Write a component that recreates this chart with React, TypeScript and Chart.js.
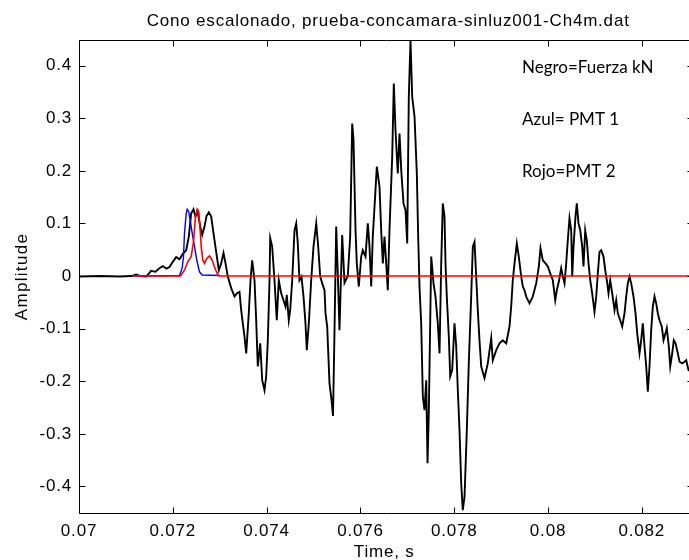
import React, { useEffect, useRef } from "react";
import { Chart, registerables } from "chart.js";

Chart.register(...registerables);

// ---------- data (time in milliseconds, amplitude in chart units) ----------
const blackTimeMs = [
  70.0, 70.437, 70.864, 71.119, 71.22, 71.311, 71.433, 71.539, 71.631, 71.716,
  71.787, 71.866, 71.93, 72.0, 72.072, 72.143, 72.213, 72.286, 72.341, 72.392,
  72.441, 72.484, 72.533, 72.584, 72.627, 72.676, 72.719, 72.768, 72.819, 72.868,
  72.925, 72.981, 73.032, 73.081, 73.124, 73.173, 73.245, 73.316, 73.365, 73.422,
  73.458, 73.493, 73.529, 73.565, 73.62, 73.657, 73.693, 73.742, 73.778, 73.812,
  73.864, 73.906, 73.955, 73.991, 74.026, 74.062, 74.077, 74.119, 74.168, 74.217,
  74.26, 74.311, 74.36, 74.403, 74.431, 74.473, 74.503, 74.546, 74.595, 74.631,
  74.665, 74.701, 74.744, 74.787, 74.829, 74.857, 74.9, 74.951, 75.0, 75.058,
  75.1, 75.143, 75.186, 75.235, 75.256, 75.292, 75.341, 75.384, 75.416, 75.448,
  75.484, 75.522, 75.554, 75.612, 75.661, 75.731, 75.782, 75.825, 75.853, 75.896,
  75.923, 75.966, 76.017, 76.051, 76.109, 76.158, 76.194, 76.23, 76.264, 76.301,
  76.35, 76.407, 76.443, 76.478, 76.514, 76.55, 76.584, 76.62, 76.678, 76.712,
  76.748, 76.797, 76.834, 76.87, 76.919, 76.962, 76.998, 77.032, 77.068, 77.104,
  77.154, 77.203, 77.232, 77.26, 77.296, 77.331, 77.367, 77.403, 77.431, 77.458,
  77.51, 77.559, 77.601, 77.65, 77.687, 77.723, 77.757, 77.793, 77.815, 77.842,
  77.885, 77.915, 77.957, 78.006, 78.043, 78.077, 78.113, 78.149, 78.183, 78.22,
  78.269, 78.311, 78.362, 78.397, 78.433, 78.469, 78.503, 78.539, 78.576, 78.646,
  78.716, 78.789, 78.823, 78.896, 78.966, 79.036, 79.109, 79.179, 79.215, 79.249,
  79.286, 79.335, 79.377, 79.429, 79.463, 79.499, 79.535, 79.606, 79.676, 79.748,
  79.804, 79.84, 79.889, 79.947, 79.996, 80.047, 80.102, 80.154, 80.188, 80.23,
  80.281, 80.316, 80.352, 80.388, 80.422, 80.458, 80.495, 80.516, 80.544, 80.586,
  80.614, 80.65, 80.687, 80.729, 80.757, 80.793, 80.827, 80.864, 80.9, 80.942,
  80.991, 81.028, 81.062, 81.098, 81.134, 81.183, 81.22, 81.254, 81.29, 81.326,
  81.369, 81.418, 81.454, 81.488, 81.539, 81.582, 81.631, 81.667, 81.701, 81.738,
  81.774, 81.823, 81.866, 81.902, 81.951, 81.987, 82.021, 82.058, 82.094, 82.128,
  82.164, 82.2, 82.235, 82.271, 82.307, 82.341, 82.377, 82.426, 82.463, 82.505,
  82.533, 82.576, 82.606, 82.648, 82.682, 82.719, 82.768, 82.804, 82.861, 82.91,
  82.947, 82.996, 83.081,
];

const blackAmp = [
  -0.001, 0, -0.001, 0, 0.003, 0, -0.001, 0.01, 0.008, 0.015,
  0.019, 0.014, 0.017, 0.027, 0.036, 0.032, 0.042, 0.049, 0.075, 0.119,
  0.127, 0.113, 0.122, 0.094, 0.078, 0.094, 0.114, 0.121, 0.113, 0.081,
  0.046, 0.011, 0.024, 0.044, 0.024, -0.001, -0.023, -0.039, -0.033, -0.03,
  -0.065, -0.09, -0.115, -0.147, -0.071, -0.008, 0.03, -0.008, -0.084, -0.172,
  -0.128, -0.198, -0.217, -0.191, -0.122, -0.008, 0.072, 0.056, -0.008, -0.084,
  -0.008, -0.033, -0.046, -0.058, -0.036, -0.084, -0.065, -0.008, 0.087, 0.1,
  0.062, -0.008, -0.001, -0.039, -0.09, -0.141, -0.09, -0.008, 0.056, 0.1,
  0.056, -0.001, -0.014, -0.027, -0.071, -0.096, -0.204, -0.236, -0.266, -0.103,
  0.094, -0.008, -0.103, 0.078, -0.013, 0, 0.075, 0.29, 0.259, 0.087,
  0.024, -0.02, 0.037, 0.049, 0.037, 0.1, 0.056, -0.02, 0.075, 0.132,
  0.208, 0.17, 0.087, 0.024, 0.075, 0.024, -0.027, 0.087, 0.227, 0.366,
  0.278, 0.195, 0.271, 0.202, 0.138, 0.125, 0.062, 0.341, 0.449, 0.341,
  0.303, 0.195, 0.075, -0.02, -0.09, -0.229, -0.255, -0.198, -0.356, -0.261,
  0.037, -0.014, -0.039, -0.09, -0.147, 0.024, 0.138, 0.113, 0.024, -0.039,
  -0.115, -0.191, -0.179, -0.09, -0.134, -0.217, -0.293, -0.394, -0.445, -0.42,
  -0.293, -0.166, -0.039, 0.056, 0.065, -0.001, -0.065, -0.122, -0.172, -0.194,
  -0.166, -0.118, -0.16, -0.141, -0.128, -0.122, -0.128, -0.096, -0.058, -0.008,
  0.024, 0.062, 0.037, -0.001, -0.02, -0.027, -0.039, -0.052, -0.039, -0.014,
  0.018, 0.053, 0.03, 0.024, 0.018, 0.005, -0.008, -0.046, -0.027, -0.011,
  0.015, -0.001, -0.014, 0.024, 0.068, 0.11, 0.087, -0.001, 0.056, 0.113,
  0.138, 0.1, 0.087, 0.056, 0.018, 0.087, 0.068, 0.024, -0.008, -0.033,
  -0.068, -0.039, 0.005, 0.046, 0.049, 0.037, 0.011, -0.008, -0.033, -0.008,
  -0.033, -0.065, -0.046, -0.071, -0.084, -0.096, -0.071, -0.039, -0.014, -0.001,
  -0.014, -0.039, -0.071, -0.109, -0.147, -0.122, -0.09, -0.134, -0.172, -0.22,
  -0.172, -0.103, -0.058, -0.039, -0.052, -0.071, -0.084, -0.096, -0.122, -0.109,
  -0.099, -0.134, -0.172, -0.147, -0.122, -0.128, -0.147, -0.163, -0.166, -0.163,
  -0.16, -0.179, -0.183,
];

const blueTimeMs = [
  71.147, 72.143, 72.2, 72.228, 72.249, 72.286, 72.307, 72.341, 72.371, 72.414,
  72.463, 72.512, 72.569, 72.627, 72.996,
];
const blueAmp = [
  0, 0.001, 0.015, 0.037, 0.081, 0.119, 0.127, 0.122, 0.106, 0.081,
  0.056, 0.03, 0.008, 0.002, 0.001,
];

const redTimeMs = [
  71.147, 72.164, 72.249, 72.32, 72.392, 72.441, 72.484, 72.52, 72.554, 72.584,
  72.606, 72.64, 72.676, 72.725, 72.783, 72.84, 72.889, 72.96, 72.996, 83.1,
];
const redAmp = [
  0, 0, 0.011, 0.027, 0.037, 0.065, 0.113, 0.127, 0.122, 0.087,
  0.056, 0.03, 0.024, 0.034, 0.038, 0.03, 0.017, 0.002, 0, 0,
];

const xTickValues = [0.07, 0.072, 0.074, 0.076, 0.078, 0.08, 0.082];
const yTickValues = [-0.4, -0.3, -0.2, -0.1, 0, 0.1, 0.2, 0.3, 0.4];
const xRange = [0.07, 0.0831];
const yRange = [-0.4505, 0.4487];

const titleText = "Cono escalonado, prueba-concamara-sinluz001-Ch4m.dat";
const xLabelText = "Time, s";
const yLabelText = "Amplitude";
const noteLines = ["Negro=Fuerza kN", "Azul= PMT 1", "Rojo=PMT 2"];

// ---------------------------------------------------------------------------
const CANVAS_W = 700;
const CANVAS_H = 560;
const AX_FAMILY = '"Liberation Sans", Arial, sans-serif';
const AX_FONT = "17px " + AX_FAMILY;
const NOTE_FONT = '17px Lato, "Open Sans", sans-serif';
const SPACING = "0.8px";

function toPoints(tMs: number[], amp: number[]) {
  const n = Math.min(tMs.length, amp.length);
  const pts: { x: number; y: number }[] = [];
  for (let i = 0; i < n; i++) pts.push({ x: tMs[i] / 1000, y: amp[i] });
  return pts;
}

function fmt(v: number) {
  const s = String(+v.toFixed(4));
  return s === "-0" ? "0" : s;
}

const spacingPlugin = {
  id: "letterSpacing",
  beforeUpdate(chart: any) {
    (chart.ctx as any).letterSpacing = SPACING;
  },
  beforeDraw(chart: any) {
    (chart.ctx as any).letterSpacing = SPACING;
  },
};

const matlabPlugin = {
  id: "matlabFrame",
  afterDraw(chart: any) {
    const ctx = chart.ctx as CanvasRenderingContext2D;
    const { left, right, top, bottom } = chart.chartArea;
    const xs = chart.scales.x;
    const ys = chart.scales.y;
    const L = Math.round(left) + 0.5;
    const R = Math.round(right) + 0.5;
    const T = Math.round(top) + 0.5;
    const B = Math.round(bottom) + 0.5;
    ctx.save();
    ctx.strokeStyle = "#000";
    ctx.lineWidth = 1;
    ctx.beginPath();
    ctx.moveTo(L, T);
    ctx.lineTo(R, T);
    ctx.lineTo(R, B);
    ctx.lineTo(L, B);
    ctx.closePath();
    ctx.stroke();
    const tl = 6;
    ctx.beginPath();
    xTickValues.forEach((v) => {
      const px = Math.round(xs.getPixelForValue(v)) + 0.5;
      ctx.moveTo(px, B);
      ctx.lineTo(px, B - tl);
      ctx.moveTo(px, T);
      ctx.lineTo(px, T + tl);
    });
    yTickValues.forEach((v) => {
      const py = Math.round(ys.getPixelForValue(v)) + 0.5;
      ctx.moveTo(L, py);
      ctx.lineTo(L + tl, py);
      ctx.moveTo(R, py);
      ctx.lineTo(R - tl, py);
    });
    ctx.stroke();

    const cx = (left + right) / 2;
    ctx.fillStyle = "#000";
    (ctx as any).letterSpacing = SPACING;
    ctx.font = AX_FONT;
    ctx.textAlign = "center";
    ctx.textBaseline = "alphabetic";
    ctx.fillText(titleText, cx + 2, 26);
    ctx.fillText(xLabelText, cx - 2, 557);

    ctx.save();
    (ctx as any).letterSpacing = "1.3px";
    ctx.translate(27, (top + bottom) / 2);
    ctx.rotate(-Math.PI / 2);
    ctx.fillText(yLabelText, 0, 0);
    ctx.restore();

    (ctx as any).letterSpacing = "0px";
    ctx.font = NOTE_FONT;
    ctx.textAlign = "left";
    const baselines = [72.5, 125, 177];
    noteLines.forEach((s, i) => ctx.fillText(s, 522, baselines[i]));
    ctx.restore();
  },
};

export default function App() {
  const ref = useRef<HTMLCanvasElement | null>(null);
  useEffect(() => {
    if (!ref.current) return;
    const chart = new Chart(ref.current, {
      type: "line",
      data: {
        datasets: [
          {
            label: "Fuerza",
            data: toPoints(blackTimeMs, blackAmp),
            borderColor: "#000000",
            borderWidth: 1.9,
            pointRadius: 0,
            tension: 0,
            order: 3,
          },
          {
            label: "PMT 1",
            data: toPoints(blueTimeMs, blueAmp),
            borderColor: "#0000ff",
            borderWidth: 1.4,
            pointRadius: 0,
            tension: 0,
            order: 2,
          },
          {
            label: "PMT 2",
            data: toPoints(redTimeMs, redAmp),
            borderColor: "#ff0000",
            borderWidth: 1.6,
            pointRadius: 0,
            tension: 0,
            order: 1,
          },
        ],
      },
      options: {
        animation: false,
        responsive: false,
        parsing: false as any,
        layout: { padding: { left: 0, top: 40, right: CANVAS_W - 693.4, bottom: 0 } },
        plugins: { legend: { display: false }, title: { display: false }, tooltip: { enabled: false } },
        scales: {
          x: {
            type: "linear",
            min: xRange[0],
            max: xRange[1],
            border: { display: false },
            grid: { display: false, drawTicks: false },
            afterBuildTicks: (s: any) => {
              s.ticks = xTickValues.map((v) => ({ value: v }));
            },
            afterFit: (s: any) => {
              s.height = CANVAS_H - 513;
            },
            ticks: {
              padding: 8,
              maxRotation: 0,
              autoSkip: false,
              color: "#000",
              font: { family: AX_FAMILY, size: 17 },
              callback: (v: any) => fmt(Number(v)),
            },
          },
          y: {
            type: "linear",
            min: yRange[0],
            max: yRange[1],
            border: { display: false },
            grid: { display: false, drawTicks: false },
            afterBuildTicks: (s: any) => {
              s.ticks = yTickValues.map((v) => ({ value: v }));
            },
            afterFit: (s: any) => {
              s.width = 79;
            },
            ticks: {
              padding: 7,
              autoSkip: false,
              color: "#000",
              font: { family: AX_FAMILY, size: 17 },
              callback: (v: any) => fmt(Number(v)),
            },
          },
        },
      },
      plugins: [spacingPlugin, matlabPlugin],
    });
    return () => chart.destroy();
  }, []);

  return (
    <div
      style={{
        position: "absolute",
        left: 0,
        top: 0,
        width: 689,
        height: 560,
        overflow: "hidden",
        background: "#fff",
      }}
    >
      <canvas ref={ref} width={CANVAS_W} height={CANVAS_H} style={{ display: "block" }} />
    </div>
  );
}
